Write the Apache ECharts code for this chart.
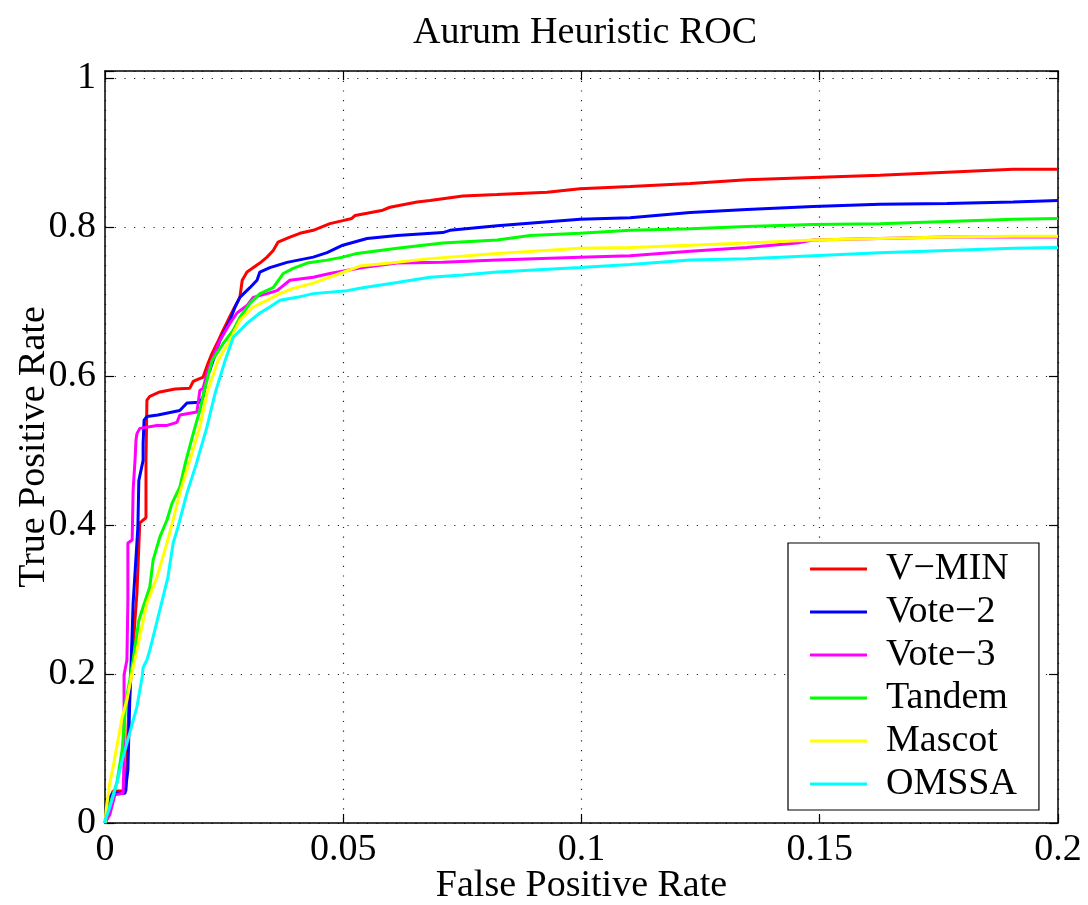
<!DOCTYPE html>
<html>
<head>
<meta charset="utf-8">
<script src="https://cdn.jsdelivr.net/npm/echarts@6/dist/echarts.min.js"></script>
<style>html,body{margin:0;padding:0;background:#fff}#c{width:1088px;height:905px}</style>
</head>
<body>
<div id="c"></div>
<script>
const seriesNames = ['V\u2212MIN', 'Vote\u22122', 'Vote\u22123', 'Tandem', 'Mascot', 'OMSSA'];
const seriesColors = ['#ff0000', '#0000ff', '#ff00ff', '#00ff00', '#ffff00', '#00ffff'];
const xTicks = [0, 0.05, 0.1, 0.15, 0.2];
const yTicks = [0, 0.2, 0.4, 0.6, 0.8, 1];

const vmin = [[0,0],[0.0015,0.04],[0.0017,0.043],[0.0044,0.043],[0.0046,0.085],[0.005,0.157],[0.0057,0.219],[0.0067,0.309],[0.0073,0.403],[0.0086,0.41],[0.0086,0.487],[0.0088,0.568],[0.0094,0.573],[0.0115,0.579],[0.0147,0.583],[0.0178,0.584],[0.0185,0.593],[0.0206,0.599],[0.0216,0.617],[0.0225,0.631],[0.0235,0.644],[0.0248,0.662],[0.0258,0.675],[0.0269,0.689],[0.0283,0.706],[0.0288,0.729],[0.0298,0.740],[0.0325,0.752],[0.0340,0.760],[0.0353,0.769],[0.0363,0.780],[0.0388,0.787],[0.0409,0.792],[0.0437,0.796],[0.0472,0.805],[0.0499,0.809],[0.0518,0.812],[0.0525,0.816],[0.0550,0.819],[0.0583,0.823],[0.0598,0.827],[0.0655,0.834],[0.0682,0.836],[0.0751,0.842],[0.0823,0.844],[0.0928,0.847],[0.0997,0.852],[0.1102,0.855],[0.1228,0.859],[0.1347,0.864],[0.1486,0.867],[0.1626,0.870],[0.1767,0.874],[0.1906,0.878],[0.2,0.878]];
const vote2 = [[0,0],[0.001,0.035],[0.0017,0.040],[0.0042,0.040],[0.0048,0.071],[0.0052,0.165],[0.0055,0.219],[0.0059,0.295],[0.0069,0.397],[0.0071,0.460],[0.0080,0.487],[0.0080,0.510],[0.0082,0.541],[0.0088,0.546],[0.0111,0.548],[0.0157,0.554],[0.0172,0.564],[0.0199,0.565],[0.0206,0.572],[0.0214,0.601],[0.0220,0.608],[0.0241,0.648],[0.0262,0.675],[0.0273,0.693],[0.0283,0.706],[0.0304,0.719],[0.0319,0.729],[0.0325,0.740],[0.0346,0.746],[0.0382,0.753],[0.0437,0.760],[0.0466,0.766],[0.0499,0.776],[0.0550,0.785],[0.0613,0.789],[0.0709,0.793],[0.0724,0.796],[0.0823,0.802],[0.0997,0.811],[0.1102,0.813],[0.1228,0.820],[0.1347,0.824],[0.1486,0.828],[0.1626,0.831],[0.1767,0.832],[0.1906,0.834],[0.2,0.836]];
const vote3 = [[0,0],[0.001,0.011],[0.0021,0.038],[0.0038,0.040],[0.004,0.085],[0.004,0.165],[0.004,0.199],[0.0046,0.219],[0.0048,0.299],[0.0048,0.376],[0.0057,0.380],[0.0059,0.447],[0.0063,0.487],[0.0065,0.514],[0.0067,0.523],[0.0073,0.530],[0.0109,0.534],[0.0130,0.534],[0.0151,0.538],[0.0157,0.548],[0.0193,0.552],[0.0199,0.581],[0.0206,0.584],[0.0214,0.604],[0.0227,0.626],[0.0241,0.648],[0.0262,0.671],[0.0277,0.685],[0.0298,0.695],[0.0311,0.706],[0.0340,0.711],[0.0361,0.715],[0.0388,0.729],[0.0437,0.733],[0.0472,0.738],[0.0541,0.746],[0.0613,0.752],[0.0709,0.753],[0.0823,0.756],[0.0997,0.760],[0.1102,0.762],[0.1228,0.768],[0.1347,0.773],[0.1452,0.779],[0.1486,0.783],[0.1626,0.785],[0.1767,0.787],[0.2,0.787]];
const tandem = [[0,0],[0.001,0.024],[0.0025,0.054],[0.0036,0.098],[0.0044,0.165],[0.0052,0.192],[0.0059,0.219],[0.0071,0.272],[0.0080,0.290],[0.0094,0.317],[0.0101,0.353],[0.0115,0.384],[0.0130,0.407],[0.0141,0.430],[0.0157,0.451],[0.0170,0.487],[0.0189,0.532],[0.0199,0.554],[0.0210,0.585],[0.0225,0.621],[0.0248,0.644],[0.0269,0.662],[0.0283,0.679],[0.0304,0.698],[0.0325,0.711],[0.0353,0.719],[0.0374,0.738],[0.0395,0.745],[0.0424,0.752],[0.0466,0.756],[0.0499,0.760],[0.0529,0.765],[0.0613,0.772],[0.0709,0.779],[0.0823,0.783],[0.0892,0.789],[0.0997,0.792],[0.1102,0.796],[0.1228,0.798],[0.1347,0.801],[0.1486,0.804],[0.1626,0.805],[0.1767,0.808],[0.1906,0.811],[0.2,0.812]];
const mascot = [[0,0],[0.0003,0.02],[0.001,0.054],[0.0017,0.075],[0.0036,0.142],[0.0046,0.165],[0.0059,0.209],[0.0067,0.232],[0.0088,0.295],[0.0109,0.330],[0.0130,0.376],[0.0143,0.407],[0.0157,0.443],[0.0178,0.487],[0.0199,0.532],[0.0214,0.577],[0.0237,0.621],[0.0262,0.648],[0.0283,0.675],[0.0311,0.693],[0.0340,0.702],[0.0367,0.711],[0.0395,0.718],[0.0437,0.725],[0.0493,0.738],[0.0535,0.748],[0.0598,0.752],[0.0682,0.758],[0.0823,0.765],[0.0997,0.772],[0.1102,0.773],[0.1228,0.776],[0.1347,0.779],[0.1486,0.783],[0.1626,0.785],[0.1767,0.787],[0.1906,0.788],[0.2,0.788]];
const omssa = [[0,0],[0,0.004],[0.001,0.021],[0.0025,0.054],[0.0038,0.089],[0.0052,0.121],[0.0067,0.156],[0.0078,0.196],[0.0080,0.209],[0.0088,0.219],[0.0094,0.232],[0.0115,0.286],[0.0132,0.330],[0.0143,0.376],[0.0153,0.397],[0.0172,0.443],[0.0191,0.481],[0.0214,0.532],[0.0231,0.577],[0.0252,0.621],[0.0269,0.652],[0.0298,0.671],[0.0325,0.685],[0.0346,0.693],[0.0367,0.702],[0.0403,0.706],[0.0437,0.711],[0.0508,0.715],[0.0541,0.719],[0.0613,0.726],[0.0682,0.733],[0.0751,0.736],[0.0823,0.740],[0.0997,0.746],[0.1102,0.750],[0.1228,0.756],[0.1347,0.758],[0.1486,0.762],[0.1626,0.766],[0.1767,0.769],[0.1906,0.772],[0.2,0.773]];

const seriesData = [vmin, vote2, vote3, tandem, mascot, omssa];
const FONT = "'Liberation Serif', 'Times New Roman', serif";
const FS = 38;

const chart = echarts.init(document.getElementById('c'), null, {renderer: 'canvas'});
const isTick = (v, arr) => arr.some(t => Math.abs(t - v) < 1e-9);

const baseAxis = {
  axisLine: {show: true, onZero: false, lineStyle: {color: '#000', width: 1.5}},
  axisTick: {show: true, inside: true, length: 9, lineStyle: {color: '#000', width: 1.2}},
};

chart.setOption({
  animation: false,
  backgroundColor: '#fff',
  title: {
    text: 'Aurum Heuristic ROC', left: 580, top: 9, textAlign: 'center',
    textStyle: {fontFamily: FONT, fontSize: FS, fontWeight: 'normal', color: '#000'}
  },
  grid: {left: 105, right: 30, top: 71, bottom: 82, containLabel: false, outerBoundsMode: 'none'},
  legend: {
    orient: 'vertical', left: 788, top: 543,
    padding: [7, 22, 7, 22], itemGap: 5, itemWidth: 57, itemHeight: 3, icon: 'rect',
    backgroundColor: '#fff', borderColor: '#000', borderWidth: 1.2, borderRadius: 0,
    data: seriesNames,
    textStyle: {fontFamily: FONT, fontSize: FS, color: '#000', lineHeight: 38, padding: [0, 0, 0, 14]}
  },
  xAxis: [
    Object.assign({}, baseAxis, {
      type: 'value', min: 0, max: 0.2, interval: 0.05, position: 'bottom',
      name: 'False Positive Rate', nameLocation: 'middle', nameGap: 44, nameMoveOverlap: false,
      nameTextStyle: {fontFamily: FONT, fontSize: FS, color: '#000'},
      axisLabel: {fontFamily: FONT, fontSize: FS, color: '#000', margin: 8,
        formatter: v => isTick(v, xTicks) ? String(+v.toFixed(3)) : ''},
      splitLine: {show: true, lineStyle: {color: '#222', width: 1.2, type: [1.2, 8.5]}}
    }),
    Object.assign({}, baseAxis, {
      type: 'value', min: 0, max: 0.2, interval: 0.05, position: 'top',
      axisLabel: {show: false}, splitLine: {show: false}
    })
  ],
  yAxis: [
    Object.assign({}, baseAxis, {
      type: 'value', min: 0, max: 1.01, interval: 0.2, position: 'left',
      name: 'True Positive Rate', nameLocation: 'middle', nameGap: 52, nameMoveOverlap: false,
      nameTextStyle: {fontFamily: FONT, fontSize: FS, color: '#000'},
      axisLabel: {fontFamily: FONT, fontSize: FS, color: '#000', margin: 9,
        formatter: v => isTick(v, yTicks) ? String(+v.toFixed(2)) : ''},
      splitLine: {show: true, lineStyle: {color: '#222', width: 1.2, type: [1.2, 8.5]}}
    }),
    Object.assign({}, baseAxis, {
      type: 'value', min: 0, max: 1.01, interval: 0.2, position: 'right',
      axisLabel: {show: false}, splitLine: {show: false}
    })
  ],
  series: seriesNames.map((n, i) => ({
    name: n, type: 'line', data: seriesData[i], symbol: 'none', showSymbol: false,
    xAxisIndex: 0, yAxisIndex: 0, z: 2 + i,
    lineStyle: {color: seriesColors[i], width: 3}, itemStyle: {color: seriesColors[i]},
    emphasis: {disabled: true}
  }))
});
</script>
</body>
</html>
